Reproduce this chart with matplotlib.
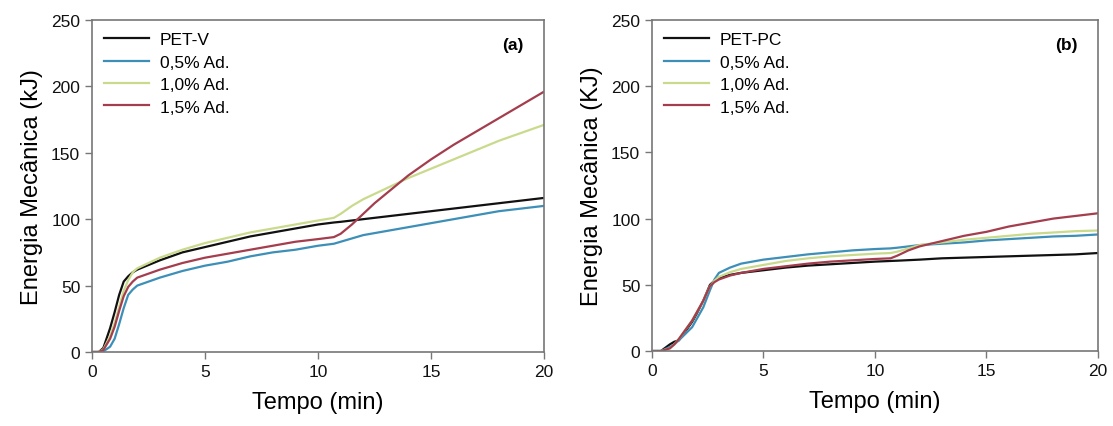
import matplotlib
matplotlib.use("Agg")
import matplotlib.pyplot as plt
import numpy as np

plt.rcParams['font.family'] = ['Liberation Sans', 'DejaVu Sans']

# (a) PET-V series
t_a = [0, 0.3, 0.5, 0.8, 1.0, 1.2, 1.4, 1.6, 1.8, 2, 3, 4, 5, 6, 7, 8, 9, 10,
       10.7, 11, 11.5, 12, 12.5, 13, 14, 15, 16, 17, 18, 19, 20]
petv = [0, 0, 3, 18, 30, 43, 53, 57, 60, 62, 69, 75, 79, 83, 87, 90, 93, 96,
        97.5, 98, 99, 100, 101, 102, 104, 106, 108, 110, 112, 114, 116]
a_05 = [0, 0, 0.5, 4, 10, 21, 33, 43, 47, 50, 56, 61, 65, 68, 72, 75, 77, 80,
        81.5, 83, 85.5, 88, 89.5, 91, 94, 97, 100, 103, 106, 108, 110]
a_10 = [0, 0, 2, 12, 22, 34, 46, 54, 60, 63, 71, 77, 82, 86, 90, 93, 96, 99,
        101, 104, 110, 115, 119, 123, 131, 138, 145, 152, 159, 165, 171]
a_15 = [0, 0, 1.5, 10, 19, 31, 42, 49, 53, 56, 62, 67, 71, 74, 77, 80, 83, 85,
        86.5, 89, 96, 104, 112, 119, 133, 145, 156, 166, 176, 186, 196]

# (b) PET-PC series
t_b = [0, 0.4, 0.8, 1.0, 1.2, 1.5, 1.8, 2.0, 2.3, 2.6, 2.8, 3.0, 3.5, 4, 5, 6,
       7, 8, 9, 10, 10.7, 11, 11.5, 12, 13, 14, 15, 16, 17, 18, 19, 20]
petpc = [0, 0, 5, 7, 8, 15, 22, 28, 38, 50, 53, 55, 57.5, 59, 61, 63,
         64.5, 65.5, 66.5, 67.5, 68, 68.2, 68.6, 69, 70, 70.5, 71, 71.5, 72, 72.5, 73, 74]
b_05 = [0, 0, 3, 5, 8, 13, 18, 24, 33, 46, 54, 59, 63, 66, 69, 71,
        73, 74.5, 76, 77, 77.5, 78, 79, 80, 81, 82, 83.5, 84.5, 85.5, 86.5, 87, 88]
b_10 = [0, 0, 2, 5, 9, 16, 23, 29, 38, 49, 53, 56, 59.5, 62, 65, 68,
        70, 71.5, 72.5, 73.5, 74, 75, 77.5, 80, 82, 84, 85.5, 87, 88.5, 89.5, 90.5, 91]
b_15 = [0, 0, 2, 5, 9, 16, 23, 29, 38, 49, 52, 54, 57, 59, 62, 64,
        66, 67.5, 68.5, 69.5, 70, 72, 76, 79, 83, 87, 90, 94, 97, 100, 102, 104]

labels_a = ['PET-V', '0,5% Ad.', '1,0% Ad.', '1,5% Ad.']
labels_b = ['PET-PC', '0,5% Ad.', '1,0% Ad.', '1,5% Ad.']
colors = ['#111111', '#3d8fb8', '#c9da8c', '#a43d4d']

x_ticks = [0, 5, 10, 15, 20]
y_ticks = [0, 50, 100, 150, 200, 250]

fig = plt.figure(figsize=(11.13, 4.27), dpi=100)
ax_a = fig.add_axes([0.0827, 0.1733, 0.4061, 0.7777])
ax_b = fig.add_axes([0.5858, 0.1756, 0.4007, 0.7754])

panels = [
    (ax_a, t_a, [petv, a_05, a_10, a_15], labels_a, '(a)', 'Energia Mecânica (kJ)'),
    (ax_b, t_b, [petpc, b_05, b_10, b_15], labels_b, '(b)', 'Energia Mecânica (KJ)'),
]

for ax, t, series, labels, tag, ylab in panels:
    for y, lab, c in zip(series, labels, colors):
        ax.plot(t, y, color=c, lw=1.6, label=lab)
    ax.set_xlim(0, 20)
    ax.set_ylim(0, 250)
    ax.set_xticks(x_ticks)
    ax.set_yticks(y_ticks)
    ax.tick_params(direction='out', length=5, width=1, colors='#777777',
                   labelcolor='#111111', labelsize=12.5)
    for sp in ax.spines.values():
        sp.set_color('#777777')
        sp.set_linewidth(1.2)
    ax.set_xlabel('Tempo (min)', fontsize=17, labelpad=9)
    ax.set_ylabel(ylab, fontsize=17, labelpad=6)
    ax.text(0.955, 0.925, tag, transform=ax.transAxes, ha='right', va='center',
            fontsize=12.5, fontweight='bold')
    ax.legend(loc='upper left', frameon=False, fontsize=12.5, handlelength=2.6,
              labelspacing=0.42, borderaxespad=0.3, handletextpad=0.6)

fig.savefig('out.png', dpi=100)
